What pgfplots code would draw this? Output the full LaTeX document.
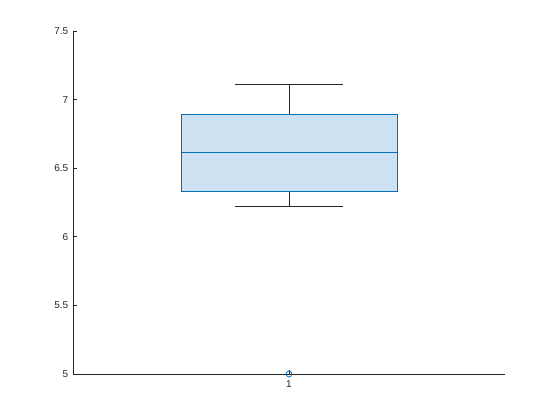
\documentclass[border=0pt]{standalone}
\usepackage{fontspec}
\setmainfont{Liberation Sans}
\usepackage{pgfplots}
\pgfplotsset{compat=1.18}
\usepgfplotslibrary{statistics}
\usetikzlibrary{calc}
\definecolor{mblue}{RGB}{0,114,189}
\definecolor{mfill}{RGB}{204,225,241}
\definecolor{mgray}{RGB}{38,38,38}

\begin{document}
\begin{tikzpicture}
\begin{axis}[scale only axis, width=324pt, height=257.25pt,
  xmin=0.5, xmax=1.5, ymin=5, ymax=7.5,
  axis x line*=bottom, axis y line*=left,
  axis line style={mgray, line width=0.5pt},
  xtick={1}, ytick={5,5.5,...,7.5},
  yticklabels={5,5.5,6,6.5,7,7.5},
  tick align=inside, major tick length=3.2pt,
  tick style={mgray, line width=0.5pt},
  tick label style={font=\fontsize{7.5}{9}\selectfont, text=mgray},
  xticklabel style={yshift=-1.5pt},
  /pgf/number format/assume math mode=true,
  clip=false,
  boxplot/draw direction=y,
  boxplot/box extend=0.5,
  boxplot/whisker extend=0.25,
  boxplot/every box/.style={draw=mblue, fill=mfill, line width=0.6pt},
  boxplot/every median/.style={draw=mblue, line width=0.6pt},
  boxplot/every whisker/.style={draw=mgray, line width=0.6pt},
]
\addplot[mark=o, mark size=2.2pt, mblue, mark options={line width=0.6pt},
  boxplot prepared={draw position=1, lower whisker=6.220, lower quartile=6.329,
    median=6.614, upper quartile=6.891, upper whisker=7.109}]
  table[row sep=\\, y index=0] {5.0\\};
\end{axis}
\path[use as bounding box] ($(current axis.south west)+(-54.75pt,-34.5pt)$) rectangle ($(current axis.north east)+(41.25pt,23.25pt)$);
\end{tikzpicture}
\end{document}
